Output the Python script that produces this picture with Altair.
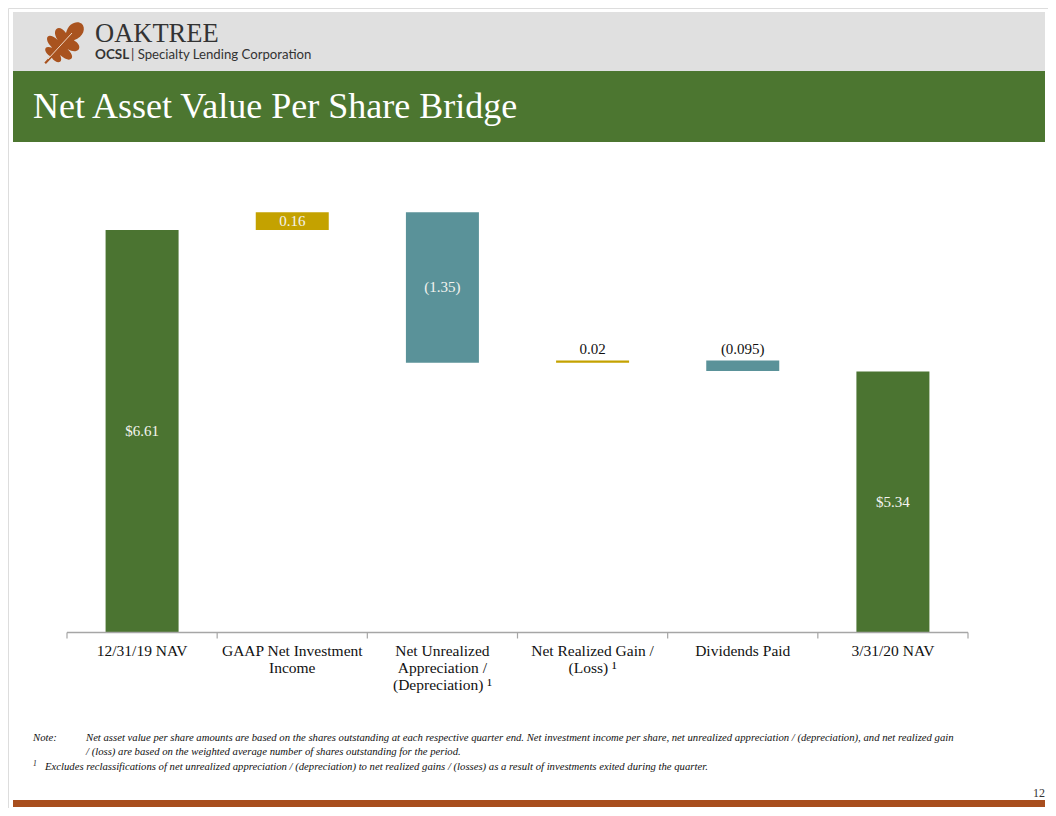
import altair as alt
import pandas as pd

# ---------------- data ----------------
categories = ["12/31/19 NAV", "GAAP Net Investment Income", "Net Unrealized Appreciation / (Depreciation)",
              "Net Realized Gain / (Loss)", "Dividends Paid", "3/31/20 NAV"]
axis_labels = ["12/31/19 NAV", "GAAP Net Investment\nIncome", "Net Unrealized\nAppreciation /\n(Depreciation) \u00b9",
               "Net Realized Gain /\n(Loss) \u00b9", "Dividends Paid", "3/31/20 NAV"]
amounts = [6.61, 0.16, -1.35, 0.02, -0.095, 5.34]
kinds = ["total", "increase", "decrease", "increase", "decrease", "total"]
value_labels = ["$6.61", "0.16", "(1.35)", "0.02", "(0.095)", "$5.34"]
axis_min = 3.0
axis_max = 7.0

note_line1 = ("Net asset value per share amounts are based on the shares outstanding at each respective quarter end. "
              "Net investment income per share, net unrealized appreciation / (depreciation), and net realized gain")
note_line2 = "/ (loss) are based on the weighted average number of shares outstanding for the period."
note_line3 = ("Excludes reclassifications of net unrealized appreciation / (depreciation) to net realized gains / (losses) "
              "as a result of investments exited during the quarter.")

# --------------- build table ---------------
rows = []
running = 0.0
n = len(categories)
for i, (cat, lab, amt, kind, vl) in enumerate(zip(categories, axis_labels, amounts, kinds, value_labels)):
    if kind == "total":
        start, end = axis_min, amt
        running = amt
    else:
        start, end = running, running + amt
        running = running + amt
    rows.append(dict(category=cat, axis_label=lab, start=start, end=end, kind=kind, label=vl,
                     mid=(start + end) / 2, top=max(start, end), small=abs(amt) < 0.1, last=(i == n - 1)))
df = pd.DataFrame(rows)

GREEN = "#4b7431"
GOLD = "#c4a200"
TEAL = "#5a9299"
SERIF = "Liberation Serif"
X_RANGE = [59, 960]

xscale = alt.Scale(domain=categories, range=X_RANGE, paddingInner=0.514, paddingOuter=0.257)
xstep = alt.Scale(domain=categories, range=X_RANGE, paddingInner=0, paddingOuter=0)
yscale = alt.Scale(domain=[axis_min, axis_max], range=[624.4, 178.6], zero=False, nice=False)


def xc():
    return alt.X("category:N", sort=None, scale=xscale, axis=None)


bars = alt.Chart(df).mark_bar(size=73).encode(
    x=xc(),
    y=alt.Y("start:Q", scale=yscale, axis=None),
    y2="end:Q",
    color=alt.Color("kind:N", scale=alt.Scale(domain=["total", "increase", "decrease"],
                                              range=[GREEN, GOLD, TEAL]), legend=None),
)

# axis line and ticks at category boundaries
ticks = alt.Chart(df).mark_rule(color="#a6a6a6", strokeWidth=1.2).encode(
    x=alt.X("category:N", sort=None, scale=xstep, axis=None, bandPosition=0),
    y=alt.value(624.4), y2=alt.value(630.5),
)
end_tick = alt.Chart(df).transform_filter("datum.last").mark_rule(color="#a6a6a6", strokeWidth=1.2).encode(
    x=alt.X("category:N", sort=None, scale=xstep, axis=None, bandPosition=1),
    y=alt.value(624.4), y2=alt.value(630.5),
)
baseline = alt.Chart(df).transform_filter("datum.last").mark_rule(color="#a6a6a6", strokeWidth=1.5).encode(
    x=alt.X("category:N", sort=None, scale=xstep, axis=None, bandPosition=1),
    x2=alt.value(X_RANGE[0]),
    y=alt.value(624.4),
)

inside_labels = alt.Chart(df).transform_filter("!datum.small").mark_text(
    font=SERIF, fontSize=15, color="#f4f4f0", baseline="middle").encode(
    x=xc(), y=alt.Y("mid:Q", scale=yscale, axis=None), text="label:N",
)

above_labels = alt.Chart(df).transform_filter("datum.small").mark_text(
    font=SERIF, fontSize=15, color="#111111", baseline="alphabetic", dy=-6).encode(
    x=xc(), y=alt.Y("top:Q", scale=yscale, axis=None), text="label:N",
)

cat_labels = alt.Chart(df).mark_text(
    font=SERIF, fontSize=15.5, color="#111111", baseline="alphabetic", lineBreak="\n", lineHeight=17,
    align="center").encode(
    x=xc(), y=alt.value(647.5), text="axis_label:N",
)

one = pd.DataFrame({"k": [0]})


def rect(x, x2, y, y2, color):
    return alt.Chart(one).mark_rect(color=color).encode(
        x=alt.value(x), x2=alt.value(x2), y=alt.value(y), y2=alt.value(y2))


def text(t, x, y, **kw):
    return alt.Chart(one).mark_text(text=t, align=kw.pop("align", "left"), baseline="alphabetic", **kw).encode(
        x=alt.value(x), y=alt.value(y))


header_gray = rect(5, 1037, 4, 63, "#e0e0e0")
header_green = rect(5, 1037, 63, 134, "#4c7630")
footer_bar = rect(5, 1037, 792, 799, "#a84e1e")

leaf_path = ("M-0.04,1 L-0.04,0.68 "
             "C-0.3,0.75 -0.55,0.55 -0.2,0.4 "
             "C-0.7,0.4 -0.75,0.05 -0.25,0.05 "
             "C-0.7,-0.05 -0.65,-0.45 -0.2,-0.35 "
             "C-0.4,-0.7 -0.2,-1 0,-1 "
             "C0.2,-1 0.4,-0.7 0.2,-0.35 "
             "C0.65,-0.45 0.7,-0.05 0.25,0.05 "
             "C0.75,0.05 0.7,0.4 0.2,0.4 "
             "C0.55,0.55 0.3,0.75 0.04,0.68 "
             "L0.04,1 Z")
leaf = alt.Chart(one).mark_point(shape=leaf_path, filled=True, color="#a9531f", opacity=1, size=2900,
                                 angle=43).encode(x=alt.value(55.5), y=alt.value(35.5))
vein = alt.Chart(one).mark_rule(color="#f0d9c8", strokeWidth=1).encode(
    x=alt.value(40), y=alt.value(51), x2=alt.value(64), y2=alt.value(25))

oaktree = text("OAKTREE", 87, 34, font=SERIF, fontSize=26.5, color="#333333")
ocsl = text("OCSL", 87, 51, font="Lato", fontSize=13.5, fontWeight="bold", color="#333333")
ocsl2 = text("| Specialty Lending Corporation", 123, 51, font="Lato", fontSize=13.2, color="#333333")
title = text("Net Asset Value Per Share Bridge", 25, 110, font=SERIF, fontSize=36, color="#ffffff")

note_kw = dict(font=SERIF, fontSize=10.7, fontStyle="italic", color="#111111")
n0 = text("Note:", 25, 733, **note_kw)
n1 = text(note_line1, 78, 733, **note_kw)
n2 = text(note_line2, 78, 747, **note_kw)
n3a = text("1", 25, 758, font=SERIF, fontSize=7.5, fontStyle="italic", color="#111111")
n3 = text(note_line3, 37, 762, **note_kw)
page_no = text("12", 1037, 789, font=SERIF, fontSize=12, color="#333333", align="right")

chart = alt.layer(
    header_gray, header_green, footer_bar, leaf, vein, oaktree, ocsl, ocsl2, title,
    bars, baseline, ticks, end_tick, inside_labels, above_labels, cat_labels,
    n0, n1, n2, n3a, n3, page_no,
).resolve_scale(x="independent").properties(
    width=1040, height=800, autosize=alt.AutoSizeParams(type="none"), padding=0
).configure_view(stroke=None).configure(background="#ffffff")

chart.save("out.html", embed_options={"renderer": "svg", "actions": False})
